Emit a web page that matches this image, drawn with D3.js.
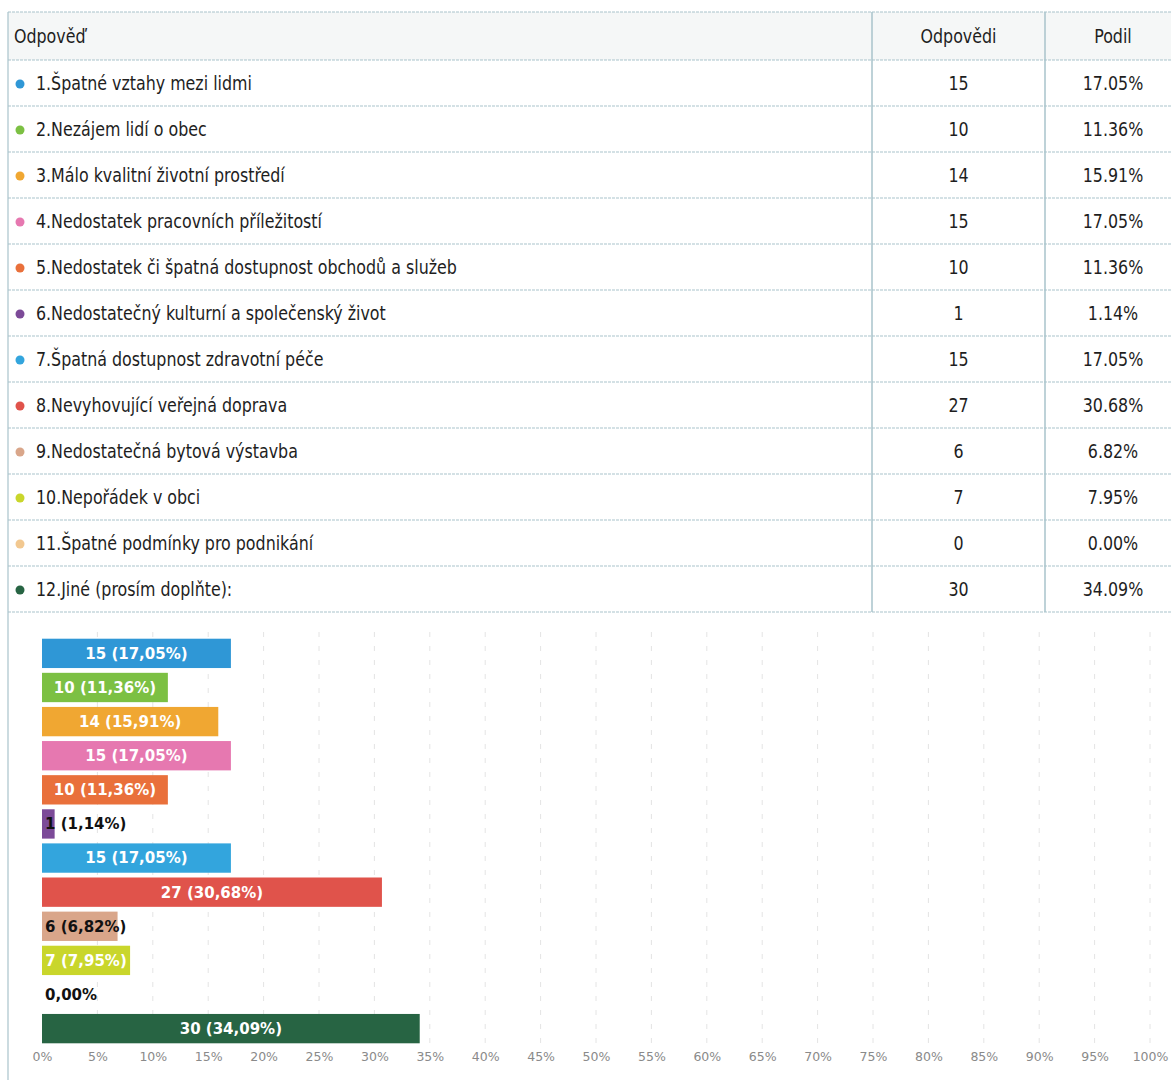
<!DOCTYPE html>
<html><head><meta charset="utf-8">
<script src="https://cdn.jsdelivr.net/npm/d3@7/dist/d3.min.js"></script>
<style>
body{margin:0;background:#fff;}
svg{display:block;}
.tbl{font-family:"DejaVu Sans Condensed","DejaVu Sans",sans-serif;fill:#1e1e1e;font-size:19.5px;}
.lbl{font-family:"DejaVu Sans",sans-serif;font-weight:bold;font-size:15px;}
.tick{font-family:"DejaVu Sans",sans-serif;font-size:12.5px;fill:#8a8a8a;}
</style></head>
<body><svg id="c" width="1171" height="1080"></svg>
<script>
const categories = [
  "1.Špatné vztahy mezi lidmi",
  "2.Nezájem lidí o obec",
  "3.Málo kvalitní životní prostředí",
  "4.Nedostatek pracovních příležitostí",
  "5.Nedostatek či špatná dostupnost obchodů a služeb",
  "6.Nedostatečný kulturní a společenský život",
  "7.Špatná dostupnost zdravotní péče",
  "8.Nevyhovující veřejná doprava",
  "9.Nedostatečná bytová výstavba",
  "10.Nepořádek v obci",
  "11.Špatné podmínky pro podnikání",
  "12.Jiné (prosím doplňte):"
];
const counts = [15, 10, 14, 15, 10, 1, 15, 27, 6, 7, 0, 30];
const shares = [17.05, 11.36, 15.91, 17.05, 11.36, 1.14, 17.05, 30.68, 6.82, 7.95, 0.00, 34.09];
const colors = ["#2f97d6","#7cc043","#f0a732","#e678b0","#e9703b","#7c4a98","#33a5dd","#e0534b","#d9a68a","#c9d62b","#f2c890","#276443"];
const headers = ["Odpověď", "Odpovědi", "Podil"];
const ticks = [0,5,10,15,20,25,30,35,40,45,50,55,60,65,70,75,80,85,90,95,100];

const SX = 0.905; // horizontal squeeze of table text (condensed face)
const svg = d3.select("#c");
svg.append("rect").attr("width",1171).attr("height",1080).attr("fill","#fff");

function ttext(sel, x, anchor, str) {
  return sel.append("text").attr("class","tbl").attr("transform",`scale(${SX},1)`)
    .attr("x", x/SX).attr("dy","0.36em").attr("text-anchor",anchor).text(str);
}

// ---- table ----
const tTop = 12, headH = 48, rowH = 46;
const colX = [8, 872, 1045, 1183];
const rowY = d3.scaleBand().domain(d3.range(categories.length)).range([tTop+headH, tTop+headH+rowH*categories.length]);
const lineCol = "#a9c3cb";
svg.append("rect").attr("x",colX[0]).attr("y",tTop).attr("width",1171-colX[0]).attr("height",headH).attr("fill","#f5f7f7");
const g = svg.append("g");
const hl = [tTop, tTop+headH].concat(d3.range(categories.length).map(i=>rowY(i)+rowH));
g.selectAll("line.h").data(hl).join("line").attr("x1",colX[0]).attr("x2",1171).attr("y1",d=>d).attr("y2",d=>d)
  .attr("stroke",lineCol).attr("stroke-width",1.2).attr("stroke-dasharray","3,1");
g.selectAll("line.v").data([colX[1],colX[2]]).join("line").attr("x1",d=>d).attr("x2",d=>d).attr("y1",tTop).attr("y2",rowY(categories.length-1)+rowH)
  .attr("stroke",lineCol).attr("stroke-width",1.5);
g.append("line").attr("x1",colX[0]).attr("x2",colX[0]).attr("y1",tTop).attr("y2",1080).attr("stroke",lineCol).attr("stroke-width",1.2);

const hg = svg.append("g").attr("transform",`translate(0,${tTop+headH/2})`);
ttext(hg, 14, "start", headers[0]);
ttext(hg, (colX[1]+colX[2])/2, "middle", headers[1]);
ttext(hg, (colX[2]+colX[3])/2 - 1, "middle", headers[2]);

const rows = svg.append("g").selectAll("g").data(categories).join("g").attr("transform",(d,i)=>`translate(0,${rowY(i)+rowH/2})`);
rows.append("circle").attr("cx",20).attr("cy",1).attr("r",4.5).attr("fill",(d,i)=>colors[i]);
rows.each(function(d,i){
  const r = d3.select(this);
  ttext(r, 36, "start", d);
  ttext(r, (colX[1]+colX[2])/2, "middle", counts[i]);
  ttext(r, (colX[2]+colX[3])/2 - 1, "middle", shares[i].toFixed(2)+"%");
});

// ---- bar chart ----
const x = d3.scaleLinear().domain([0,100]).range([42,1150]);
const y = d3.scaleBand().domain(d3.range(categories.length)).range([637,1045]).paddingInner(0.14).paddingOuter(0.05);
const grid = svg.append("g");
grid.selectAll("line").data(ticks.filter(t=>t>0)).join("line")
  .attr("x1",d=>x(d)).attr("x2",d=>x(d)).attr("y1",632).attr("y2",1046)
  .attr("stroke","#e4e4e4").attr("stroke-width",1).attr("stroke-dasharray","5,9");

const bars = svg.append("g").selectAll("g").data(categories).join("g");
bars.append("rect").attr("x",x(0)).attr("y",(d,i)=>y(i)).attr("width",(d,i)=>x(shares[i])-x(0)).attr("height",y.bandwidth()).attr("fill",(d,i)=>colors[i]);
bars.append("text").attr("class","lbl").attr("y",(d,i)=>y(i)+y.bandwidth()/2).attr("dy","0.36em")
  .text((d,i)=> counts[i] ? `${counts[i]} (${shares[i].toFixed(2).replace(".",",")}%)` : `${shares[i].toFixed(2).replace(".",",")}%`)
  .each(function(d,i){
    const w = this.getComputedTextLength();
    const bw = x(shares[i]) - x(0);
    const t = d3.select(this);
    if (w <= bw) {
      t.attr("x", x(0)+bw/2).attr("text-anchor","middle").attr("fill","#fff");
    } else {
      t.attr("x", x(0)+3).attr("text-anchor","start").attr("fill","#111");
    }
  });

const axis = d3.axisBottom(x).tickValues(ticks).tickFormat(d=>d+"%").tickSize(0).tickPadding(0);
const ax = svg.append("g").attr("transform","translate(0,1052)").call(axis);
ax.select(".domain").remove();
ax.selectAll("text").attr("class","tick").attr("font-size",null).attr("font-family",null).attr("fill",null).attr("dy","0.71em");
</script></body></html>
